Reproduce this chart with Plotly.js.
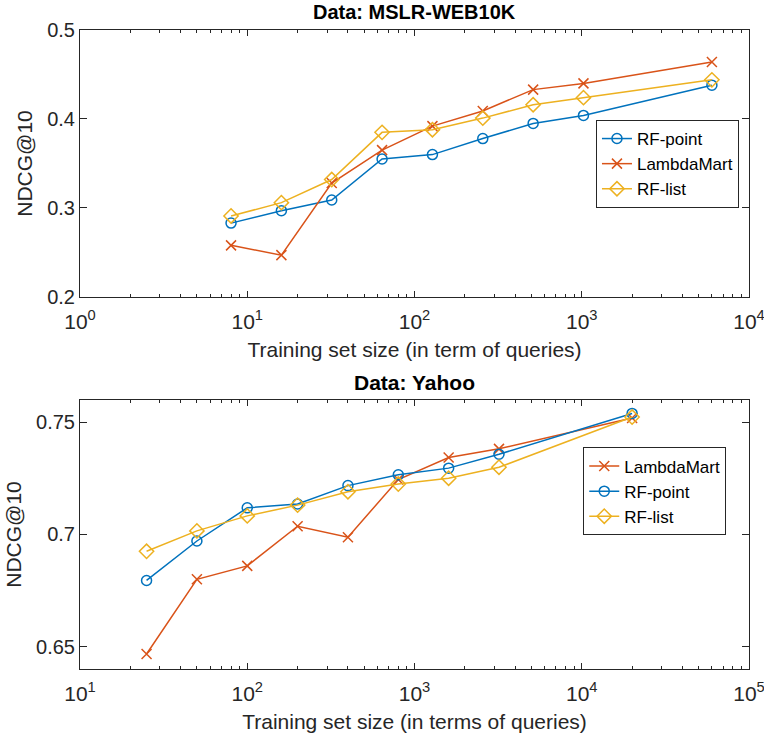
<!DOCTYPE html>
<html>
<head>
<meta charset="utf-8">
<script src="https://cdn.plot.ly/plotly-3.0.1.min.js"></script>
<style>html,body{margin:0;padding:0;background:#fff;}#chart{width:764px;height:740px;}</style>
</head>
<body>
<div id="chart"></div>
<script>
// ---- Data: MSLR-WEB10K ----
const mslrSizes = [8, 16, 32, 64, 128, 256, 512, 1024, 6000];
const mslrRFpoint = [0.283, 0.297, 0.309, 0.355, 0.360, 0.378, 0.395, 0.404, 0.438];
const mslrLambdaMart = [0.258, 0.247, 0.328, 0.365, 0.392, 0.409, 0.433, 0.440, 0.464];
const mslrRFlist = [0.291, 0.306, 0.332, 0.385, 0.388, 0.401, 0.416, 0.424, 0.444];

// ---- Data: Yahoo ----
const yahooSizes = [25, 50, 100, 200, 400, 800, 1600, 3200, 20000];
const yahooLambdaMart = [0.6467, 0.680, 0.686, 0.7037, 0.6988, 0.7245, 0.7343, 0.7382, 0.752];
const yahooRFpoint = [0.6795, 0.6971, 0.7119, 0.7136, 0.7218, 0.7266, 0.7296, 0.7358, 0.754];
const yahooRFlist = [0.6925, 0.7016, 0.7083, 0.7131, 0.7191, 0.7225, 0.7251, 0.7300, 0.7524];

// ---- Tick labels ----
const topXTicks = [1, 10, 100, 1000, 10000];
const topXTickText = ['10<sup>0</sup>', '10<sup>1</sup>', '10<sup>2</sup>', '10<sup>3</sup>', '10<sup>4</sup>'];
const botXTicks = [10, 100, 1000, 10000, 100000];
const botXTickText = ['10<sup>1</sup>', '10<sup>2</sup>', '10<sup>3</sup>', '10<sup>4</sup>', '10<sup>5</sup>'];
const topYTicks = [0.2, 0.3, 0.4, 0.5];
const topYTickText = ['0.2', '0.3', '0.4', '0.5'];
const botYTicks = [0.65, 0.7, 0.75];
const botYTickText = ['0.65', '0.7', '0.75'];

const BLUE = '#0072BD', RED = '#D95319', YEL = '#EDB120';
const AX = '#262626';
const FONT = 'Liberation Sans, Arial, sans-serif';

function minorTicks(lo, hi) {
  const v = [];
  for (let e = lo; e < hi; e++) {
    for (let m = 2; m <= 9; m++) v.push(m * Math.pow(10, e));
  }
  return v;
}

function tr(x, y, name, color, symbol, size, xa, ya, legend) {
  return {
    x: x, y: y, name: name, type: 'scatter', mode: 'lines+markers',
    xaxis: xa, yaxis: ya, legend: legend,
    line: {color: color, width: 1.5},
    marker: {symbol: symbol, size: size, color: color, line: {color: color, width: 1.5}}
  };
}

const data = [
  tr(mslrSizes, mslrRFpoint, 'RF-point', BLUE, 'circle-open', 10, 'x', 'y', 'legend'),
  tr(mslrSizes, mslrLambdaMart, 'LambdaMart', RED, 'x-thin-open', 10, 'x', 'y', 'legend'),
  tr(mslrSizes, mslrRFlist, 'RF-list', YEL, 'diamond-open', 11, 'x', 'y', 'legend'),
  tr(yahooSizes, yahooLambdaMart, 'LambdaMart', RED, 'x-thin-open', 10, 'x2', 'y2', 'legend2'),
  tr(yahooSizes, yahooRFpoint, 'RF-point', BLUE, 'circle-open', 10, 'x2', 'y2', 'legend2'),
  tr(yahooSizes, yahooRFlist, 'RF-list', YEL, 'diamond-open', 11, 'x2', 'y2', 'legend2')
];

function xAxis(range, tv, tt, title, anchor, lo, hi) {
  return {
    type: 'log', range: range, domain: [0, 1], anchor: anchor,
    tickmode: 'array', tickvals: tv, ticktext: tt,
    ticks: 'inside', ticklen: 6, tickwidth: 1, tickcolor: AX,
    mirror: 'allticks', showline: true, linecolor: AX, linewidth: 1,
    showgrid: false, zeroline: false,
    ticklabelstandoff: 6, ticklabeloverflow: 'allow',
    minor: {tickmode: 'array', tickvals: minorTicks(lo, hi), ticks: 'inside', ticklen: 3, tickcolor: AX, showgrid: false},
    tickfont: {family: FONT, size: 21, color: AX},
    title: {text: title, font: {family: FONT, size: 21, color: AX}, standoff: 10}
  };
}
function yAxis(range, domain, tv, tt, anchor) {
  return {
    range: range, domain: domain, anchor: anchor,
    tickmode: 'array', tickvals: tv, ticktext: tt,
    ticks: 'inside', ticklen: 7, tickwidth: 1, tickcolor: AX,
    mirror: 'allticks', showline: true, linecolor: AX, linewidth: 1,
    showgrid: false, zeroline: false, ticklabeloverflow: 'allow',
    tickfont: {family: FONT, size: 20, color: AX},
    title: {text: 'NDCG@10', font: {family: FONT, size: 21, color: AX}, standoff: 8}
  };
}

const legendStyle = {
  xref: 'paper', yref: 'paper', xanchor: 'right', yanchor: 'middle',
  bgcolor: '#ffffff', bordercolor: AX, borderwidth: 1, itemwidth: 30,
  font: {family: FONT, size: 17, color: '#000'}, tracegroupgap: 0
};

const layout = {
  width: 764, height: 740,
  margin: {l: 80, r: 15, t: 30, b: 71, pad: 0},
  paper_bgcolor: '#fff', plot_bgcolor: '#fff',
  showlegend: true,
  xaxis: xAxis([0, 4], topXTicks, topXTickText, 'Training set size (in term of queries)', 'y', 0, 4),
  yaxis: yAxis([0.2, 0.5], [0.5822, 1], topYTicks, topYTickText, 'x'),
  xaxis2: xAxis([1, 5], botXTicks, botXTickText, 'Training set size (in terms of queries)', 'y2', 1, 5),
  yaxis2: yAxis([0.64, 0.76], [0, 0.421], botYTicks, botYTickText, 'x2'),
  legend: Object.assign({x: 0.985, y: 0.7903}, legendStyle),
  legend2: Object.assign({x: 0.966, y: 0.2778}, legendStyle),
  annotations: [
    {text: '<b>Data: MSLR-WEB10K</b>', xref: 'paper', yref: 'paper', x: 0.5, y: 1.028, xanchor: 'center', yanchor: 'middle',
     showarrow: false, font: {family: FONT, size: 20, color: '#000'}},
    {text: '<b>Data: Yahoo</b>', xref: 'paper', yref: 'paper', x: 0.5, y: 0.4476, xanchor: 'center', yanchor: 'middle',
     showarrow: false, font: {family: FONT, size: 21, color: '#000'}}
  ]
};

Plotly.newPlot('chart', data, layout, {displayModeBar: false, staticPlot: true});
</script>
</body>
</html>
